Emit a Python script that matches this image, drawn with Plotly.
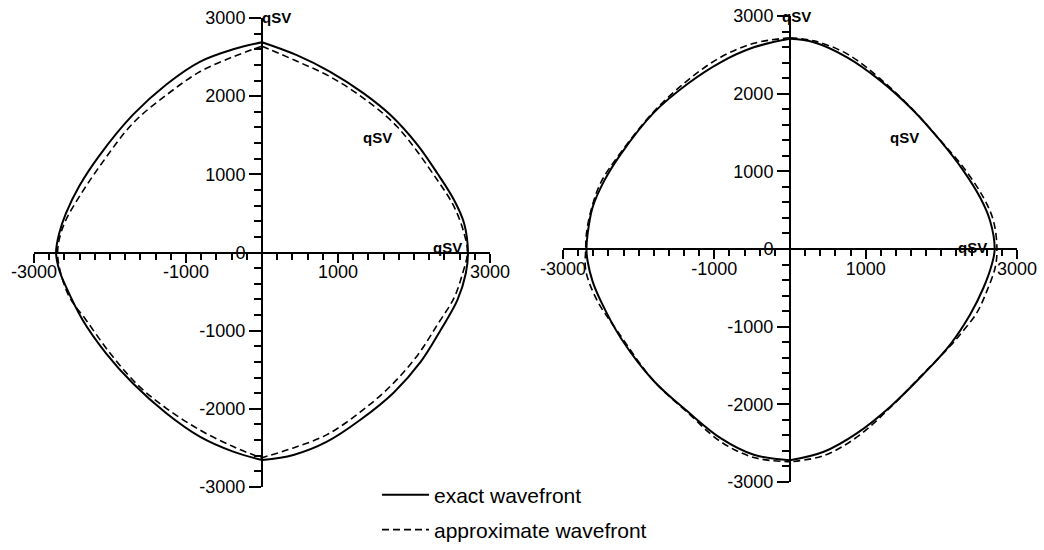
import plotly.graph_objects as go

# ---------------- data ----------------
# Left panel, exact wavefront
L_exact_right_x = [0, 458, 898, 1338, 1691, 2043, 2307, 2527, 2659, 2710, 2682, 2572, 2351, 2087, 1735, 1295, 855, 413, 0]
L_exact_right_y = [2690, 2525, 2312, 2036, 1758, 1380, 1013, 671, 373, 0, -266, -607, -991, -1400, -1790, -2140, -2420, -2590, -2655]
L_exact_left_x = [0, -379, -819, -1259, -1700, -2140, -2404, -2580, -2668, -2710, -2668, -2580, -2360, -2052, -1700, -1259, -819, -379, 0]
L_exact_left_y = [2690, 2600, 2440, 2150, 1760, 1240, 850, 500, 245, 0, -224, -437, -863, -1289, -1673, -2056, -2355, -2547, -2655]

# Left panel, approximate wavefront
L_appr_right_x = [0, 440, 898, 1338, 1779, 2307, 2527, 2659, 2703, 2640, 2527, 2310, 2050, 1700, 1295, 855, 413, 0]
L_appr_right_y = [2640, 2455, 2248, 1972, 1609, 927, 586, 245, 0, -266, -580, -920, -1310, -1700, -2040, -2330, -2500, -2625]
L_appr_left_x = [0, -379, -819, -1259, -1700, -2140, -2404, -2580, -2660, -2690, -2660, -2536, -2316, -1964, -1612, -1259, -819, -379, 0]
L_appr_left_y = [2640, 2504, 2312, 2014, 1652, 1097, 714, 416, 200, 0, -220, -565, -863, -1332, -1716, -1993, -2270, -2483, -2632]

# Right panel, exact wavefront
R_exact_right_x = [0, 314, 754, 1194, 1633, 1986, 2293, 2513, 2645, 2705, 2668, 2557, 2381, 2117, 1765, 1326, 887, 446, 0]
R_exact_right_y = [2706, 2662, 2468, 2168, 1781, 1394, 1006, 662, 361, 0, -197, -499, -843, -1230, -1610, -2030, -2370, -2610, -2720]
R_exact_left_x = [0, -478, -917, -1356, -1797, -2236, -2456, -2610, -2675, -2690, -2675, -2610, -2500, -2236, -1797, -1356, -917, -478, 0]
R_exact_left_y = [2706, 2597, 2404, 2125, 1759, 1222, 877, 533, 190, 0, -155, -413, -671, -1145, -1703, -2090, -2435, -2649, -2720]

# Right panel, approximate wavefront
R_appr_right_x = [0, 314, 754, 1194, 1633, 1986, 2293, 2557, 2689, 2735, 2711, 2601, 2470, 2300, 2117, 1765, 1326, 887, 446, 0]
R_appr_right_y = [2720, 2680, 2512, 2190, 1785, 1400, 1049, 662, 361, 0, -241, -542, -820, -1040, -1250, -1600, -2040, -2420, -2660, -2740]
R_appr_left_x = [0, -478, -917, -1356, -1797, -2236, -2500, -2632, -2690, -2700, -2698, -2544, -2280, -1797, -1356, -917, -478, 0]
R_appr_left_y = [2720, 2649, 2469, 2168, 1772, 1243, 856, 490, 200, 0, -284, -671, -1058, -1703, -2103, -2480, -2684, -2740]

# Axis ticks / labels
x_tickvals = [-3000, -1000, 1000, 3000]
x_ticktext = ["-3000", "-1000", "1000", "3000"]
y_tickvals = [-3000, -2000, -1000, 0, 1000, 2000, 3000]
y_ticktext = ["-3000", "-2000", "-1000", "0", "1000", "2000", "3000"]

# Phase labels (text, x, y) per panel
L_labels_text = ["qSV", "qSV", "qSV"]
L_labels_x = [190, 1519, 2444]
L_labels_y = [3000, 1477, 58]
R_labels_text = ["qSV", "qSV", "qSV"]
R_labels_x = [90, 1511, 2408]
R_labels_y = [2990, 1432, 20]

legend_names = ["exact wavefront", "approximate wavefront"]

# ---------------- layout geometry ----------------
W, H = 1044, 550
FONT = "Liberation Sans, Arial, Helvetica, sans-serif"
RANGE = [-3000, 3000]

# pixel positions of the panel frames (axis ends)
L_px = (34, 490)   # x of -3000 / 3000
L_py = (18, 487)   # y of 3000 / -3000
R_px = (563, 1017)
R_py = (16, 482)

def xdom(px):
    return [px[0] / W, px[1] / W]

def ydom(py):
    return [(H - py[1]) / H, (H - py[0]) / H]

def zero_frac(dom):
    return dom[0] + (0 - RANGE[0]) / (RANGE[1] - RANGE[0]) * (dom[1] - dom[0])

fig = go.Figure()

solid = dict(color="black", width=2)
dashed = dict(color="black", width=1.6, dash="7px,4px")

def add(x, y, xa, ya, line, name, show, legend):
    fig.add_trace(go.Scatter(x=x, y=y, xaxis=xa, yaxis=ya, mode="lines",
                             line=dict(shape="spline", smoothing=1.0, **line),
                             name=name, showlegend=show, legend=legend,
                             hoverinfo="skip"))

add(L_exact_right_x, L_exact_right_y, "x", "y", solid, legend_names[0], True, "legend")
add(L_exact_left_x, L_exact_left_y, "x", "y", solid, legend_names[0], False, "legend")
add(L_appr_right_x, L_appr_right_y, "x", "y", dashed, legend_names[1], True, "legend2")
add(L_appr_left_x, L_appr_left_y, "x", "y", dashed, legend_names[1], False, "legend2")
add(R_exact_right_x, R_exact_right_y, "x2", "y2", solid, legend_names[0], False, "legend")
add(R_exact_left_x, R_exact_left_y, "x2", "y2", solid, legend_names[0], False, "legend")
add(R_appr_right_x, R_appr_right_y, "x2", "y2", dashed, legend_names[1], False, "legend2")
add(R_appr_left_x, R_appr_left_y, "x2", "y2", dashed, legend_names[1], False, "legend2")

def xaxis_def(px, py):
    yd = ydom(py)
    return dict(domain=xdom(px), range=RANGE, anchor="free", position=zero_frac(yd),
                automargin=False,
                showline=True, linecolor="black", linewidth=2,
                ticks="outside", ticklen=9, tickwidth=2, tickcolor="black",
                ticklabelstandoff=-6,
                tickmode="array", tickvals=x_tickvals, ticktext=x_ticktext,
                minor=dict(tickmode="linear", tick0=0, dtick=200, ticks="outside",
                           ticklen=6, tickwidth=1.5, tickcolor="black", showgrid=False),
                showgrid=False, zeroline=False,
                tickfont=dict(family=FONT, size=18, color="black"))

def yaxis_def(px, py):
    xd = xdom(px)
    return dict(domain=ydom(py), range=RANGE, anchor="free", position=zero_frac(xd),
                automargin=False,
                showline=True, linecolor="black", linewidth=2,
                ticks="outside", ticklen=12, tickwidth=2, tickcolor="black",
                tickmode="array", tickvals=y_tickvals, ticktext=y_ticktext,
                minor=dict(tickmode="linear", tick0=0, dtick=200, ticks="outside",
                           ticklen=7, tickwidth=1.5, tickcolor="black", showgrid=False),
                showgrid=False, zeroline=False,
                tickfont=dict(family=FONT, size=18, color="black"))

annotations = []
for t, x, y in zip(L_labels_text, L_labels_x, L_labels_y):
    annotations.append(dict(text=t, x=x, y=y, xref="x", yref="y", showarrow=False,
                            font=dict(family=FONT, size=15, color="black", weight="bold")))
for t, x, y in zip(R_labels_text, R_labels_x, R_labels_y):
    annotations.append(dict(text=t, x=x, y=y, xref="x2", yref="y2", showarrow=False,
                            font=dict(family=FONT, size=15, color="black", weight="bold")))

leg_common = dict(xanchor="left", yanchor="middle", bgcolor="rgba(0,0,0,0)",
                  borderwidth=0, itemwidth=47,
                  font=dict(family=FONT, size=21, color="black"))

fig.update_layout(
    template="none",
    width=W, height=H,
    margin=dict(l=0, r=0, t=0, b=0, autoexpand=False),
    paper_bgcolor="white", plot_bgcolor="white",
    xaxis=xaxis_def(L_px, L_py), yaxis=yaxis_def(L_px, L_py),
    xaxis2=xaxis_def(R_px, R_py), yaxis2=yaxis_def(R_px, R_py),
    annotations=annotations,
    legend=dict(x=377 / W, y=(H - 495) / H, **leg_common),
    legend2=dict(x=377 / W, y=(H - 530) / H, **leg_common),
    showlegend=True,
)

fig.write_html("out.html", config={"displayModeBar": False})
